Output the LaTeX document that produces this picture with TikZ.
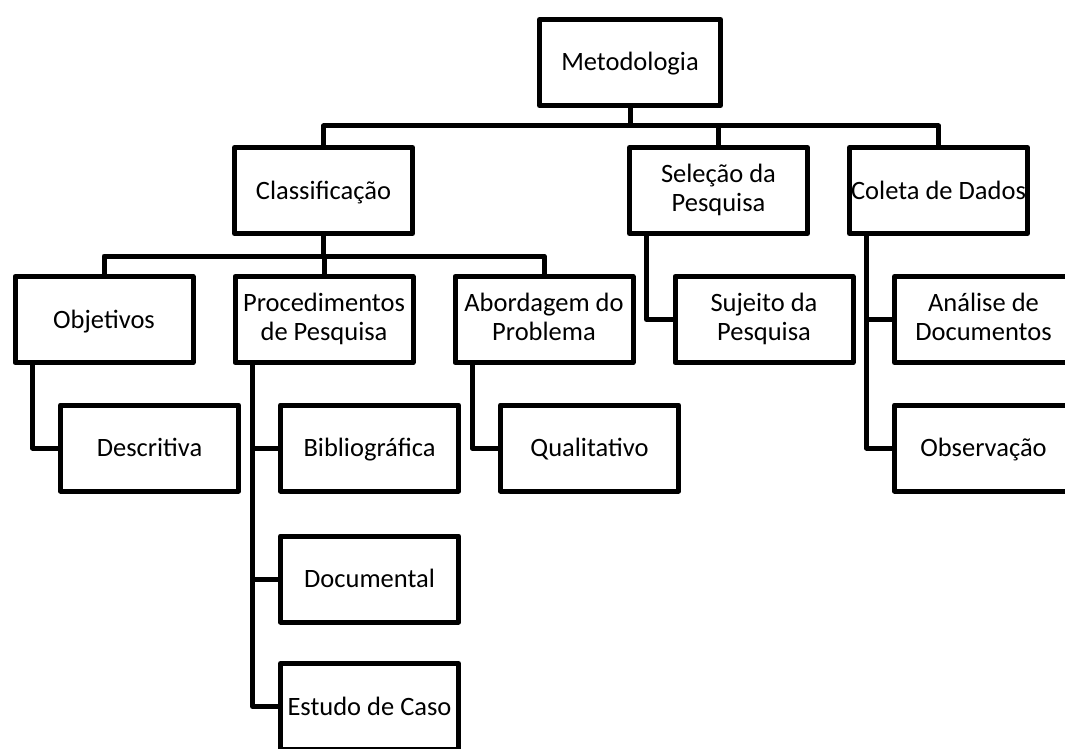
\documentclass[tikz,border=0pt]{standalone}
\usepackage{fontspec}
\setmainfont{Carlito}
% line strut: 23pt above and 6pt below the baseline
\newcommand{\lnstrut}{\rule[-6pt]{0pt}{29pt}}
\begin{document}
\begin{tikzpicture}[x=1pt,y=-1pt,
  box/.style={draw=black,line width=5pt,line join=round,fill=white,
    minimum width=178pt,minimum height=86pt,inner sep=0pt,
    align=center,font=\fontsize{26.5}{29}\selectfont,
    execute at begin node=\lnstrut},
  link/.style={draw=black,line width=5pt,line join=round}]
\useasboundingbox (0,0) rectangle (1065,749);
\clip (0,0) rectangle (1065,749);

% root
\node[box,minimum width=181pt] (met) at (630,62.5) {Metodologia};

% first level
\node[box] (cls) at (323.5,190.5) {Classificação};
\node[box] (sel) at (718.5,190.5) {Seleção da\\\lnstrut Pesquisa};
\node[box] (col) at (938.5,190.5) {Coleta de Dados};

% second level
\node[box] (obj) at (104,319.5) {Objetivos};
\node[box] (pro) at (324,319.5) {Procedimentos\\\lnstrut de Pesquisa};
\node[box] (abo) at (544,319.5) {Abordagem do\\\lnstrut Problema};
\node[box] (suj) at (764,319.5) {Sujeito da\\\lnstrut Pesquisa};
\node[box] (ana) at (983.5,319.5) {Análise de\\\lnstrut Documentos};

% third level
\node[box] (des) at (149.5,448) {Descritiva};
\node[box] (bib) at (369.5,448) {Bibliográfica};
\node[box] (qua) at (589.5,448) {Qualitativo};
\node[box] (obs) at (983.5,448) {Observação};
\node[box] (doc) at (369.5,579) {Documental};
\node[box] (est) at (369.5,706.5) {Estudo de Caso};

% bus under the root
\coordinate (busA) at (0,126);
\draw[link] (met.south) -- (met.south |- busA);
\draw[link] (cls.north) |- (busA -| col.north) -- (col.north);
\draw[link] (sel.north) -- (sel.north |- busA);

% bus under Classificação
\coordinate (busB) at (0,256);
\draw[link] (cls.south) -- (cls.south |- busB);
\draw[link] (obj.north) |- (busB -| abo.north) -- (abo.north);
\draw[link] (pro.north) -- (pro.north |- busB);

% side branches
\draw[link] ([xshift=20pt]obj.south west) |- (des.west);
\draw[link] ([xshift=20pt]pro.south west) |- (bib.west);
\draw[link] ([xshift=20pt]pro.south west) |- (doc.west);
\draw[link] ([xshift=20pt]pro.south west) |- (est.west);
\draw[link] ([xshift=19.5pt]abo.south west) |- (qua.west);
\draw[link] ([xshift=19.5pt]sel.south west) |- (suj.west);
\draw[link] ([xshift=19.5pt]col.south west) |- (ana.west);
\draw[link] ([xshift=19.5pt]col.south west) |- (obs.west);
\end{tikzpicture}
\end{document}
